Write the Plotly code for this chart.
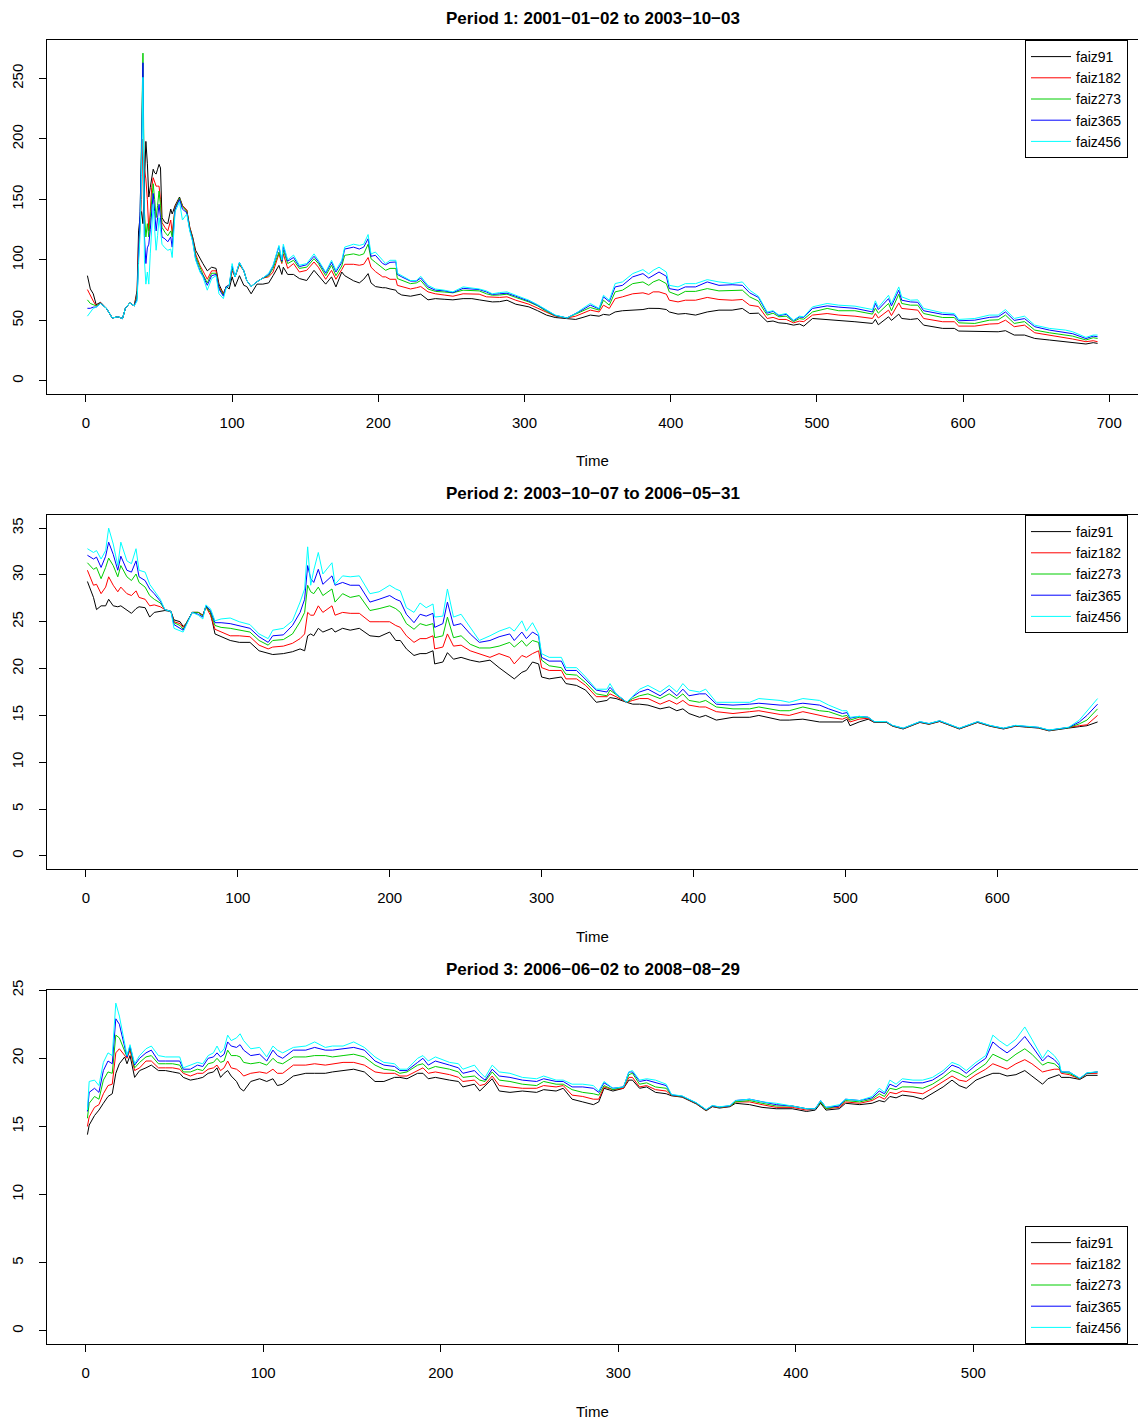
import plotly.graph_objects as go

W, H = 1138, 1423
series_names = ["faiz91", "faiz182", "faiz273", "faiz365", "faiz456"]
series_colors = ["#000000", "#FF0000", "#00CD00", "#0000FF", "#00FFFF"]

# ---------------- Period 1 ----------------
p1_title = "Period 1: 2001\u221201\u221202 to 2003\u221210\u221203"
p1_time = [1, 3, 5, 7, 10, 14, 18, 22, 25, 27,
           30, 33, 35, 36, 37, 38, 39, 40, 41, 42,
           43, 44, 45, 46, 47, 48, 49, 50, 51, 52,
           54, 56, 58, 59, 61, 64, 66, 69, 71, 73,
           75, 78, 80, 83, 86, 89, 91, 94, 96, 98,
           100, 102, 105, 108, 110, 113, 117, 121, 125, 128,
           132, 134, 135, 138, 142, 146, 151, 156, 159, 164,
           168, 171, 175, 177, 183, 187, 190, 193, 195, 198,
           203, 205, 208, 212, 213, 216, 222, 226, 229, 234,
           239, 245, 251, 258, 264, 269, 274, 278, 283, 288,
           294, 303, 309, 315, 321, 329, 335, 340, 345, 351,
           354, 358, 362, 367, 374, 381, 385, 388, 392, 397,
           399, 405, 410, 417, 425, 433, 442, 449, 454, 460,
           464, 466, 470, 474, 479, 484, 488, 491, 497, 507,
           515, 526, 538, 540, 542, 549, 551, 556, 558, 564,
           569, 573, 586, 594, 597, 608, 618, 624, 629, 635,
           642, 649, 659, 670, 675, 684, 689, 692]
p1_faiz91 = [87, 76, 72, 63, 65, 60, 52, 53, 51.5, 60,
             64.5, 62, 75, 124, 135, 140, 130, 160, 198, 180,
             152, 160, 170, 175, 172, 171, 175, 179, 176, 135,
             131, 130, 142, 138, 145, 152, 145, 141, 127, 119,
             108, 101, 97, 91, 94, 93, 80, 72, 78, 76,
             86, 78, 87, 79, 78, 72, 80, 80, 81, 87,
             95.5, 88, 94, 88, 88, 84.6, 83, 91.4, 87, 80,
             86, 77.7, 90, 87, 82.8, 81, 84, 88.7, 81, 78,
             77, 77, 76, 75, 73, 71, 70, 71, 71.7, 67,
             68, 67.5, 67, 68, 68, 67, 66, 65.3, 65.5, 66.7,
             63.4, 61.2, 58, 54.4, 52.4, 51.5, 50.8, 52.5, 54.4, 53.5,
             55, 54.4, 57, 58, 58.5, 59, 60, 59.9, 59.9, 59,
             57, 55.2, 55.7, 54.4, 57, 58.5, 58.5, 59.9, 55.7, 56,
             51.6, 48.9, 49.5, 48, 47.5, 46.1, 47, 45.3, 51.6, 50.8,
             50.2, 48.9, 47.5, 50.8, 46.4, 53, 50, 55.2, 51.6, 50.8,
             51.5, 46.1, 43.4, 43.4, 41.2, 41.2, 40.6, 40.6, 41.5, 37.9,
             37.9, 35.1, 33.8, 32.4, 31.9, 30.5, 31.6, 31]
p1_faiz182 = [75.5, 70, 66, 62, 64.5, 60, 52, 53, 51.5, 60,
              64.5, 62, 72, 113, 125, 150, 200, 175, 167, 150,
              124, 140, 160, 168, 165, 161, 161, 161, 150, 131,
              127, 124, 133, 122, 144, 151, 145, 141, 127, 118,
              105, 95.5, 91, 84, 91, 91, 78, 72, 78, 79,
              91, 86, 96, 91, 83, 78, 82, 85, 86, 90,
              105, 97, 105, 93, 97, 90, 91.4, 98.3, 94, 84,
              91.4, 84, 92, 96.4, 96.4, 95.6, 96.4, 102, 94, 90.4,
              86, 86, 84, 84, 79, 78, 76, 77, 78, 73.6,
              72, 71, 70, 72, 72, 71.7, 69.5, 69, 69, 69.5,
              66.7, 63.4, 60, 56.3, 53.5, 52, 53.5, 56, 58.5, 57,
              62.6, 59.9, 68, 69.5, 72, 72.8, 71.5, 73.6, 73.6, 71.7,
              66.7, 65.3, 66.7, 66.7, 69, 67.3, 66.7, 67.3, 62.6, 61.5,
              55, 51.6, 52.5, 50.8, 50.8, 48, 49.4, 49, 54.4, 55.7,
              54.4, 53.5, 51.6, 55.7, 52, 58.5, 54, 64.5, 59.9, 59,
              58.5, 51.6, 48.9, 48.9, 45.3, 45.3, 47, 47.3, 50.2, 44.8,
              46.1, 39.8, 37.9, 36, 34.6, 32.4, 33.2, 32.4]
p1_faiz273 = [67, 64, 63, 62, 64, 60, 52, 53, 51.5, 60,
              64.5, 62, 70, 105, 135, 200, 271, 140, 119, 130,
              119, 135, 150, 163, 150, 135, 145, 157, 145, 127,
              123, 120, 124, 119, 143, 151, 144, 140, 126, 117,
              103, 93, 88, 81, 89, 89, 77, 71, 78, 79,
              93, 86, 97, 91, 83, 78, 82, 85, 87, 93,
              106.5, 98, 108, 97, 99.7, 93, 94, 101, 97, 87,
              95.6, 87, 95, 103.8, 105, 103.8, 105, 113, 101, 98,
              93, 91.4, 93, 93, 84.6, 83, 80.4, 81, 83, 76,
              74, 73.5, 72.8, 75, 75, 74.4, 72, 70.8, 71, 71.7,
              69, 65.3, 62, 57.5, 54, 52, 55.2, 58, 60.7, 58.5,
              66.7, 62.6, 73.6, 75, 80.4, 81.8, 79, 81.8, 83.7, 80.4,
              73.6, 70.8, 74, 74, 76.3, 74.4, 74.4, 75, 69.5, 66,
              58, 54.4, 56, 53, 53.5, 49, 51.5, 51, 57, 59.9,
              58, 58, 55.2, 60, 56, 64, 58, 71.7, 64, 62.6,
              62.6, 55.7, 52.4, 52.4, 48, 47.5, 50.2, 50.5, 54.4, 47.5,
              49, 42, 39.8, 37.9, 37, 33.8, 35.7, 35.1]
p1_faiz365 = [60, 60, 61, 61, 64, 60, 52, 53, 51.5, 60,
              64.5, 62, 68, 100, 140, 190, 263, 120, 97, 110,
              113, 125, 140, 155, 140, 124, 135, 146, 135, 119,
              117.5, 115, 119, 110.6, 142, 150, 142, 139, 125, 116,
              101, 91, 87, 79, 87, 88, 76, 70, 78, 79,
              95, 86, 98, 91, 83, 78, 82, 85, 88, 95,
              111, 99, 111, 99, 102, 94.5, 96, 103, 98.5, 89,
              98, 90, 98, 109, 110.6, 109, 110.6, 117.5, 103, 103.8,
              97, 96, 98, 98.3, 88, 86, 82.5, 82.5, 85, 77.7,
              75, 74.5, 73, 76.5, 76, 75.5, 73.5, 71.5, 72, 72.5,
              70, 66, 62.5, 58, 54.2, 52, 55.5, 59, 62.6, 59.5,
              69.5, 65.5, 77.7, 79, 86, 88.7, 85, 87.3, 90, 86.5,
              76.3, 75, 77.7, 77.7, 81.8, 79, 79.5, 79, 72.8, 69,
              60, 56, 57.5, 54, 55, 49.8, 52.8, 52.5, 59.9, 62,
              61, 60, 57, 64, 59, 68, 62, 75, 66.7, 65.3,
              65, 58, 55, 54.5, 49.7, 50.2, 52.5, 53, 57, 50,
              51.5, 44.8, 42, 39.8, 39, 35, 37, 36.5]
p1_faiz456 = [53.5, 57, 60, 61, 64, 60, 52, 53, 51.5, 60,
              64.5, 62, 66, 97, 120, 170, 251, 100, 80, 90,
              80, 105, 125, 146, 125, 108, 120, 135, 125, 113,
              110, 108, 109, 102, 140, 148, 133, 138, 124, 115,
              100, 90, 86, 75, 84.6, 87, 72, 68, 77, 79,
              97, 86, 98, 91, 83, 78, 82, 85, 89, 95.6,
              112, 100, 113, 100, 104, 95.6, 97, 105, 99.7, 90,
              99.7, 91.4, 99.7, 110.6, 113, 112, 113, 121, 105, 106.5,
              99.7, 97, 99.7, 99.7, 89, 87, 83, 83, 86.5, 79,
              76, 75, 73.6, 77.7, 77, 76, 74.4, 72, 73, 73.6,
              70.8, 66.7, 63, 58.5, 54.4, 52, 55.7, 60, 64, 59.9,
              70.8, 66.7, 80.5, 81.8, 88.7, 92, 88.5, 91.4, 94, 90,
              79, 77.7, 80.4, 80.4, 83.7, 81.8, 80.5, 81.8, 75, 70,
              61.2, 57, 58, 54.4, 55.7, 50.2, 53.5, 53, 61.2, 64,
              62.6, 61.8, 59, 66.2, 60.7, 70.8, 64, 77.7, 69.5, 66.7,
              67, 59.9, 56.3, 55.7, 50.8, 51.6, 54.4, 54.4, 59, 51.6,
              53.5, 46.1, 43.4, 42, 40.6, 36, 37.9, 37.9]
p1_xticks = [0, 100, 200, 300, 400, 500, 600, 700]
p1_yticks = [0, 50, 100, 150, 200, 250]

# ---------------- Period 2 ----------------
p2_title = "Period 2: 2003\u221210\u221207 to 2006\u221205\u221231"
p2_time = [1, 5, 7, 10, 13, 15, 18, 21, 23, 27,
           30, 33, 35, 39, 42, 45, 49, 52, 56, 58,
           62, 64, 66, 70, 74, 77, 79, 82, 85, 89,
           95, 101, 108, 114, 120, 123, 130, 136, 141, 144,
           146, 148, 150, 153, 156, 162, 164, 169, 174, 180,
           187, 193, 200, 204, 207, 211, 216, 220, 224, 228.5,
           229.6, 235, 238, 242, 247, 253, 259, 266, 272, 279,
           282, 287, 290, 294, 298, 300, 305, 313, 316, 323,
           329, 336, 343, 345, 349, 356, 360, 364.5, 370, 378,
           384, 389, 393, 397, 404, 408, 415, 426, 437, 443,
           457, 463, 472, 483, 489, 498, 501, 503, 509, 515,
           519, 527, 531, 538, 549, 555, 562, 575, 587, 595,
           604, 612, 619, 627, 634, 641, 647, 654, 659, 666]
p2_faiz91 = [29.3, 27.6, 26.3, 26.7, 26.7, 27.4, 26.7, 26.6, 26.7, 26.2,
             25.9, 26.4, 26.6, 26.5, 25.5, 26, 26.1, 26.2, 26.1, 25.2,
             25, 24.5, 24.8, 26, 26, 25.7, 26.6, 26, 23.7, 23.4,
             23, 22.8, 22.8, 21.9, 21.6, 21.5, 21.6, 21.8, 22.1, 21.9,
             23.5, 23.7, 23.5, 24.3, 23.9, 24.3, 23.9, 24.3, 24.1, 24.3,
             23.5, 23.4, 23.9, 23, 23, 22.1, 21.4, 21.6, 21.6, 21.9,
             20.5, 20.7, 21.7, 21, 21.2, 20.9, 20.7, 20.9, 20.1, 19.3,
             18.9, 19.6, 19.8, 20.7, 20.5, 19.1, 18.9, 19.1, 18.4, 18.2,
             17.7, 16.4, 16.6, 16.9, 16.8, 16.4, 16.2, 16.2, 16.1, 15.7,
             15.9, 15.5, 15.7, 15.2, 14.8, 15, 14.5, 14.8, 14.8, 15,
             14.5, 14.5, 14.6, 14.3, 14.3, 14.3, 14.6, 13.9, 14.3, 14.6,
             14.25, 14.25, 13.85, 13.55, 14.25, 14.05, 14.35, 13.55, 14.25, 13.85,
             13.55, 13.85, 13.75, 13.65, 13.35, 13.55, 13.65, 13.8, 13.9, 14.3]
p2_faiz182 = [30.5, 28.9, 29, 28, 28.7, 29.8, 28.9, 28.2, 28.7, 28,
              27.8, 28.3, 27.6, 27.4, 26.7, 26.8, 26.6, 26.3, 26.1, 25,
              24.8, 24.4, 24.8, 26, 26, 25.7, 26.6, 25.7, 24.2, 23.9,
              23.5, 23.5, 23.4, 22.5, 22.1, 22.3, 22.4, 22.7, 23.2, 23.7,
              26, 25.7, 25.7, 26.7, 26, 26.7, 25.7, 26, 25.9, 25.9,
              25, 25, 25, 24.6, 24.4, 23.5, 22.8, 23.2, 23.2, 23.5,
              22.1, 22.3, 23.7, 22.4, 22.5, 21.9, 21.6, 21.2, 21.6, 21.2,
              20.5, 21.4, 21.2, 21.6, 21.9, 20.1, 19.8, 19.8, 18.9, 18.9,
              18.2, 17, 17, 17.3, 17, 16.4, 16.6, 16.8, 16.8, 16.2,
              16.6, 16.2, 16.6, 16.1, 15.9, 15.9, 15.4, 15.2, 15.4, 15.5,
              15.1, 15, 15.4, 15, 14.8, 14.6, 14.8, 14.3, 14.6, 14.7,
              14.28, 14.28, 13.88, 13.58, 14.28, 14.08, 14.38, 13.58, 14.28, 13.88,
              13.58, 13.88, 13.78, 13.68, 13.38, 13.58, 13.68, 13.9, 14, 15]
p2_faiz273 = [31.3, 30.6, 30.8, 29.6, 30.8, 31.8, 31, 29.8, 31, 29.8,
              29.4, 30.1, 29.2, 28.7, 27.8, 27.4, 27, 26.3, 26.1, 24.9,
              24.6, 24.2, 24.8, 26, 26, 25.6, 26.6, 26, 24.6, 24.4,
              24.3, 24.1, 23.9, 23, 22.5, 23, 23.1, 23.7, 25, 26,
              28.9, 28.2, 28, 28.7, 27.8, 28.5, 27.1, 28, 27.6, 27.8,
              26.2, 26.4, 26.7, 26.4, 26, 24.8, 24.2, 24.8, 24.6, 24.8,
              23.3, 23.5, 25.5, 23.3, 23.5, 22.6, 22.2, 22.2, 22.4, 22.8,
              22.3, 23, 22.4, 23, 22.8, 20.9, 20.3, 20.1, 19.4, 19.3,
              18.5, 17.3, 17.1, 17.7, 17.2, 16.4, 16.8, 17.1, 17.3, 16.8,
              17.3, 16.8, 17.3, 16.6, 16.4, 16.6, 15.9, 15.7, 15.7, 15.9,
              15.5, 15.5, 15.9, 15.5, 15.4, 14.9, 15, 14.5, 14.8, 14.8,
              14.3, 14.3, 13.9, 13.6, 14.3, 14.1, 14.4, 13.6, 14.3, 13.9,
              13.6, 13.9, 13.8, 13.7, 13.4, 13.6, 13.7, 14.1, 14.5, 15.7]
p2_faiz365 = [32.1, 31.7, 31.9, 30.8, 32, 33.5, 32.2, 30.5, 32, 30.5,
              30.3, 31.5, 29.8, 29.4, 28.5, 28, 27.2, 26.3, 26.1, 24.7,
              24.3, 24.1, 24.7, 26, 25.8, 25.5, 26.7, 26.2, 24.9, 24.9,
              24.8, 24.6, 24.3, 23.4, 22.8, 23.5, 23.6, 24.6, 26, 27.4,
              31, 29.6, 29.2, 30.6, 29, 29.9, 28.9, 29.2, 28.9, 28.9,
              27.1, 27.4, 27.8, 27.4, 27.2, 25.8, 24.9, 25.8, 25.6, 25.9,
              24.4, 24.8, 27.1, 24.6, 24.8, 23.7, 22.8, 23, 23.4, 23.7,
              23, 23.9, 23.2, 23.9, 23.5, 21.2, 20.8, 20.8, 19.8, 19.8,
              18.8, 17.7, 17.5, 18, 17.3, 16.4, 17, 17.5, 17.8, 17.1,
              17.8, 17.1, 17.8, 17.1, 17.3, 17.3, 16.2, 16.1, 16.2, 16.3,
              16.1, 16.1, 16.3, 16.1, 15.7, 15.2, 15.3, 14.7, 14.9, 14.8,
              14.32, 14.32, 13.92, 13.62, 14.32, 14.12, 14.42, 13.62, 14.32, 13.92,
              13.62, 13.92, 13.82, 13.72, 13.42, 13.62, 13.72, 14.3, 15, 16.2]
p2_faiz456 = [32.8, 32.4, 32.6, 31.7, 32.6, 35, 33.3, 31, 33.5, 31.5,
              31.2, 32.8, 30.5, 30.3, 29, 28.3, 27.4, 26.3, 26.1, 24.3,
              24, 23.9, 24.6, 26, 25.7, 25.3, 26.8, 26.4, 25.1, 25.3,
              25.4, 25, 24.7, 23.7, 23.2, 24.1, 24.3, 25.1, 27.1, 28.5,
              33, 28.9, 30.5, 32.4, 30.1, 31.3, 29, 29.9, 29.8, 29.9,
              28, 28.2, 28.9, 28.5, 28.3, 26.5, 26, 27, 26.5, 26.9,
              25.5, 25.6, 28.5, 25.5, 25.8, 24.4, 23, 23.5, 24, 24.4,
              24, 25.1, 24, 24.9, 23.7, 21.6, 21.2, 21.2, 20.1, 20.1,
              19.1, 17.8, 17.8, 18.4, 17.3, 16.4, 17.1, 17.8, 18.2, 17.5,
              18.2, 17.5, 18.4, 17.7, 17.5, 17.8, 16.4, 16.4, 16.4, 16.8,
              16.6, 16.4, 16.8, 16.6, 16.1, 15.5, 15.5, 14.8, 14.9, 14.8,
              14.34, 14.34, 13.94, 13.64, 14.34, 14.14, 14.44, 13.64, 14.34, 13.94,
              13.64, 13.94, 13.84, 13.74, 13.44, 13.64, 13.74, 14.5, 15.5, 16.8]
p2_xticks = [0, 100, 200, 300, 400, 500, 600]
p2_yticks = [0, 5, 10, 15, 20, 25, 30, 35]

# ---------------- Period 3 ----------------
p3_title = "Period 3: 2006\u221206\u221202 to 2008\u221208\u221229"
p3_time = [1, 2, 5, 7.5, 10, 12.6, 15, 17, 19, 22,
           23.3, 25, 27.6, 30.4, 34, 37, 41, 45, 49, 53,
           55, 59, 63, 66, 69, 72, 74, 76, 78, 80,
           82, 85, 87, 89, 93, 98, 102, 105.5, 108, 111,
           117, 124, 129, 135, 139, 145, 151, 157, 163, 168,
           174, 177, 181, 187, 190, 193, 197, 205, 210, 212.5,
           219, 222, 225, 229, 233, 239, 246, 254, 258, 265,
           269, 274, 280, 286, 289, 292, 297, 303, 306, 308,
           312, 316, 321, 327, 330, 336, 344, 349.5, 353, 357,
           363, 366, 374, 381, 389, 398, 406, 411, 414, 417,
           424.5, 428, 436, 443, 447, 450, 453, 456.5, 460, 466,
           471.5, 477, 483, 488, 492, 496, 501.5, 507, 511, 514.6,
           519, 524, 529, 533, 539, 542, 545.6, 548.4, 549.5, 554,
           560, 564, 570]
p3_faiz91 = [14.4, 15.1, 15.8, 16.2, 16.7, 17.2, 17.4, 18.9, 19.6, 20.1,
             19.6, 20.2, 18.6, 19.1, 19.3, 19.5, 19.1, 19.1, 19, 18.9,
             18.6, 18.4, 18.5, 18.6, 18.9, 19, 19.3, 18.6, 18.9, 19.1,
             18.7, 18.3, 17.8, 17.6, 18.3, 18.5, 18.3, 18.5, 18, 18.1,
             18.7, 18.9, 18.9, 18.9, 19, 19.1, 19.2, 19, 18.3, 18.3,
             18.6, 18.6, 18.5, 18.9, 18.9, 18.5, 18.6, 18.4, 18.3, 17.9,
             18.1, 17.6, 18, 18.5, 17.6, 17.5, 17.6, 17.5, 17.7, 17.6,
             17.8, 17, 16.8, 16.6, 16.8, 17.8, 17.6, 17.8, 18.4, 18.4,
             17.8, 17.9, 17.5, 17.4, 17.25, 17.15, 16.65, 16.15, 16.45, 16.35,
             16.45, 16.7, 16.6, 16.4, 16.3, 16.3, 16.1, 16.2, 16.7, 16.2,
             16.3, 16.7, 16.6, 16.7, 16.9, 16.8, 17.2, 17.1, 17.3, 17.2,
             17, 17.4, 17.9, 18.4, 18, 17.8, 18.4, 18.7, 18.9, 18.9,
             18.7, 18.8, 19.1, 18.7, 18.1, 18.5, 18.7, 18.8, 18.6, 18.6,
             18.45, 18.75, 18.75]
p3_faiz182 = [15, 15.7, 16.4, 16.6, 17.4, 18, 18.1, 20.4, 20.7, 20.2,
              20, 20.6, 19.1, 19.3, 19.8, 19.8, 19.3, 19.3, 19.3, 19.2,
              18.9, 18.7, 18.9, 18.9, 19.2, 19.3, 19.5, 19.1, 19.3, 19.8,
              19.3, 19.2, 19, 18.7, 18.9, 19, 18.9, 19.2, 18.9, 18.9,
              19.5, 19.5, 19.6, 19.5, 19.6, 19.7, 19.7, 19.5, 19, 18.9,
              18.9, 18.7, 18.7, 19.1, 19.3, 18.9, 19, 18.8, 18.6, 18.3,
              18.4, 18, 18.1, 18.7, 18, 17.9, 17.8, 17.8, 18, 17.9,
              18, 17.3, 17.2, 17, 17, 17.9, 17.7, 17.8, 18.6, 18.6,
              17.9, 18, 17.7, 17.6, 17.28, 17.18, 16.68, 16.18, 16.48, 16.38,
              16.48, 16.8, 16.8, 16.6, 16.4, 16.4, 16.2, 16.3, 16.8, 16.3,
              16.4, 16.8, 16.7, 16.9, 17.2, 17, 17.5, 17.4, 17.6, 17.5,
              17.4, 17.8, 18.3, 18.7, 18.4, 18.3, 18.8, 19.2, 19.6, 19.4,
              19.2, 19.6, 19.9, 19.6, 19, 19.1, 19.2, 19.2, 18.9, 18.8,
              18.48, 18.88, 18.9]
p3_faiz273 = [15.6, 16.7, 17.2, 17, 18.4, 19, 18.9, 21.7, 21.5, 20.6,
              20.1, 20.8, 19.3, 19.7, 20.1, 20.2, 19.6, 19.6, 19.6, 19.5,
              19, 19, 19.2, 19.1, 19.6, 19.7, 20, 19.7, 19.8, 20.6,
              20.2, 20.2, 20.1, 19.7, 19.6, 19.7, 19.5, 20, 19.7, 19.6,
              20.1, 20.1, 20.2, 20.2, 20.1, 20.2, 20.3, 20.1, 19.5, 19.2,
              19.1, 18.9, 19, 19.5, 19.6, 19.2, 19.4, 19.2, 19, 18.6,
              18.7, 18.4, 18.3, 19, 18.4, 18.3, 18.1, 18, 18.3, 18.1,
              18.1, 17.7, 17.5, 17.4, 17.3, 18, 17.7, 17.9, 18.8, 18.9,
              18.1, 18.2, 17.9, 17.8, 17.3, 17.2, 16.7, 16.2, 16.5, 16.4,
              16.5, 16.8, 16.9, 16.7, 16.5, 16.5, 16.3, 16.3, 16.8, 16.3,
              16.5, 16.9, 16.8, 17, 17.4, 17.2, 17.8, 17.7, 17.9, 17.9,
              17.8, 18.1, 18.6, 19.1, 18.9, 18.6, 19.1, 19.6, 20.3, 20.1,
              19.8, 20.3, 20.7, 20.3, 19.5, 19.7, 19.6, 19.3, 19, 18.9,
              18.5, 18.9, 19]
p3_faiz365 = [16.1, 17.5, 17.8, 17.5, 19.1, 19.8, 19.6, 22.9, 22.5, 20.9,
              20.1, 20.9, 19.5, 20, 20.4, 20.6, 19.8, 19.8, 19.8, 19.8,
              19.2, 19.2, 19.5, 19.4, 20, 20.1, 20.4, 20.1, 20.3, 21.2,
              20.9, 20.8, 21, 20.6, 20.2, 20.3, 19.8, 20.6, 20.2, 20,
              20.6, 20.6, 20.8, 20.6, 20.6, 20.7, 20.8, 20.6, 19.8, 19.5,
              19.4, 19.1, 19.1, 19.7, 20, 19.5, 19.8, 19.5, 19.3, 18.9,
              19.1, 18.7, 18.4, 19.2, 18.7, 18.6, 18.4, 18.3, 18.5, 18.3,
              18.3, 17.9, 17.9, 17.8, 17.5, 18.2, 17.8, 17.9, 19, 19,
              18.3, 18.4, 18.2, 18, 17.32, 17.22, 16.72, 16.22, 16.52, 16.42,
              16.52, 16.9, 17, 16.8, 16.6, 16.5, 16.3, 16.3, 16.9, 16.4,
              16.5, 17, 16.9, 17.1, 17.6, 17.4, 18.1, 17.9, 18.3, 18.2,
              18.2, 18.4, 18.9, 19.5, 19.3, 18.9, 19.5, 20, 21.2, 20.8,
              20.4, 20.9, 21.6, 20.9, 19.8, 20.2, 19.9, 19.5, 19, 19,
              18.52, 18.92, 19]
p3_faiz456 = [16.2, 18.3, 18.4, 18, 19.7, 20.4, 20.2, 24.05, 23.1, 21.2,
              20.2, 21, 19.6, 20.2, 20.7, 20.9, 20.2, 20.1, 20.1, 20.1,
              19.3, 19.5, 19.7, 19.6, 20.2, 20.4, 20.9, 20.4, 20.7, 21.7,
              21.3, 21.5, 21.8, 21.3, 20.7, 20.8, 20.1, 20.9, 20.6, 20.4,
              20.8, 20.9, 21.2, 20.8, 20.9, 20.9, 21.2, 20.8, 20.1, 19.7,
              19.6, 19.2, 19.2, 20, 20.2, 19.8, 20.1, 19.7, 19.6, 19.2,
              19.5, 19, 18.6, 19.5, 19, 18.9, 18.6, 18.5, 18.7, 18.4,
              18.4, 18.1, 18.1, 18, 17.6, 18.3, 17.8, 17.9, 19, 19.1,
              18.4, 18.5, 18.4, 18.1, 17.34, 17.24, 16.74, 16.24, 16.54, 16.44,
              16.54, 16.9, 17, 16.8, 16.7, 16.5, 16.3, 16.3, 16.9, 16.4,
              16.6, 17, 16.9, 17.2, 17.8, 17.5, 18.4, 18.1, 18.5, 18.4,
              18.4, 18.6, 19.1, 19.7, 19.5, 19.1, 19.7, 20.2, 21.7, 21.3,
              20.9, 21.4, 22.3, 21.4, 20, 20.6, 20.2, 19.7, 19, 19,
              18.54, 18.94, 19]
p3_xticks = [0, 100, 200, 300, 400, 500]
p3_yticks = [0, 5, 10, 15, 20, 25]

# ---------------- figure ----------------
FONT = "Liberation Sans, Arial, Helvetica, sans-serif"

def px_x(p):
    return p / W

def px_y(p):
    return 1 - p / H

panels = [
    dict(title=p1_title, time=p1_time,
         series=[p1_faiz91, p1_faiz182, p1_faiz273, p1_faiz365, p1_faiz456],
         xticks=p1_xticks, yticks=p1_yticks, top=40, bottom=394,
         legend_anchor="top"),
    dict(title=p2_title, time=p2_time,
         series=[p2_faiz91, p2_faiz182, p2_faiz273, p2_faiz365, p2_faiz456],
         xticks=p2_xticks, yticks=p2_yticks, top=515, bottom=869,
         legend_anchor="top"),
    dict(title=p3_title, time=p3_time,
         series=[p3_faiz91, p3_faiz182, p3_faiz273, p3_faiz365, p3_faiz456],
         xticks=p3_xticks, yticks=p3_yticks, top=990, bottom=1344,
         legend_anchor="bottom"),
]

fig = go.Figure()
layout = dict(width=W, height=H, margin=dict(l=0, r=0, t=0, b=0, autoexpand=False),
              paper_bgcolor="white", plot_bgcolor="white",
              font=dict(family=FONT, color="black", size=15),
              showlegend=True, annotations=[])

PLOT_L, PLOT_R = 47, 1138

for i, p in enumerate(panels, start=1):
    sfx = "" if i == 1 else str(i)
    leg = "legend" if i == 1 else "legend%d" % i
    for name, col, vals in zip(series_names, series_colors, p["series"]):
        fig.add_trace(go.Scatter(x=p["time"], y=vals, mode="lines", name=name,
                                 line=dict(color=col, width=1),
                                 xaxis="x" + sfx, yaxis="y" + sfx, legend=leg))
    t0, t1 = min(p["time"]), max(p["time"])
    ext = (t1 - t0) * 0.04
    ymin = 0
    ymax = max(max(s) for s in p["series"])
    yext = (ymax - ymin) * 0.04
    dom_y = [px_y(p["bottom"]), px_y(p["top"])]
    layout["xaxis" + sfx] = dict(
        domain=[px_x(PLOT_L), 1.0], range=[t0 - ext, t1 + ext],
        anchor="y" + sfx, tickvals=p["xticks"], ticks="outside", ticklen=7,
        tickcolor="black", tickwidth=1, showline=True, mirror=True,
        linecolor="black", linewidth=1, showgrid=False, zeroline=False,
        automargin=False,
        tickfont=dict(size=15, family=FONT), ticklabelstandoff=8)
    layout["yaxis" + sfx] = dict(
        domain=dom_y, range=[ymin - yext, ymax + yext],
        anchor="x" + sfx, tickvals=p["yticks"], ticks="outside", ticklen=7,
        tickcolor="black", tickwidth=1, showline=True, mirror=True,
        linecolor="black", linewidth=1, showgrid=False, zeroline=False,
        automargin=False,
        tickangle=-90, tickfont=dict(size=15, family=FONT), ticklabelstandoff=10)
    if p["legend_anchor"] == "top":
        ly, lya = px_y(p["top"]), "top"
    else:
        ly, lya = px_y(p["bottom"]), "bottom"
    layout[leg] = dict(x=px_x(1025), xanchor="left", y=ly, yanchor=lya,
                       bgcolor="white", bordercolor="black", borderwidth=1,
                       font=dict(size=14, family=FONT), itemwidth=40,
                       tracegroupgap=0)
    cx = px_x((PLOT_L + PLOT_R) / 2)
    layout["annotations"].append(dict(
        text="<b>%s</b>" % p["title"], x=cx, y=px_y(p["top"] - 21),
        xref="paper", yref="paper", showarrow=False, xanchor="center",
        yanchor="middle", font=dict(size=17, family=FONT)))
    layout["annotations"].append(dict(
        text="Time", x=cx, y=px_y(p["bottom"] + 67), xref="paper", yref="paper",
        showarrow=False, xanchor="center", yanchor="middle",
        font=dict(size=15, family=FONT)))

fig.update_layout(**layout)
fig.write_html("out.html")
